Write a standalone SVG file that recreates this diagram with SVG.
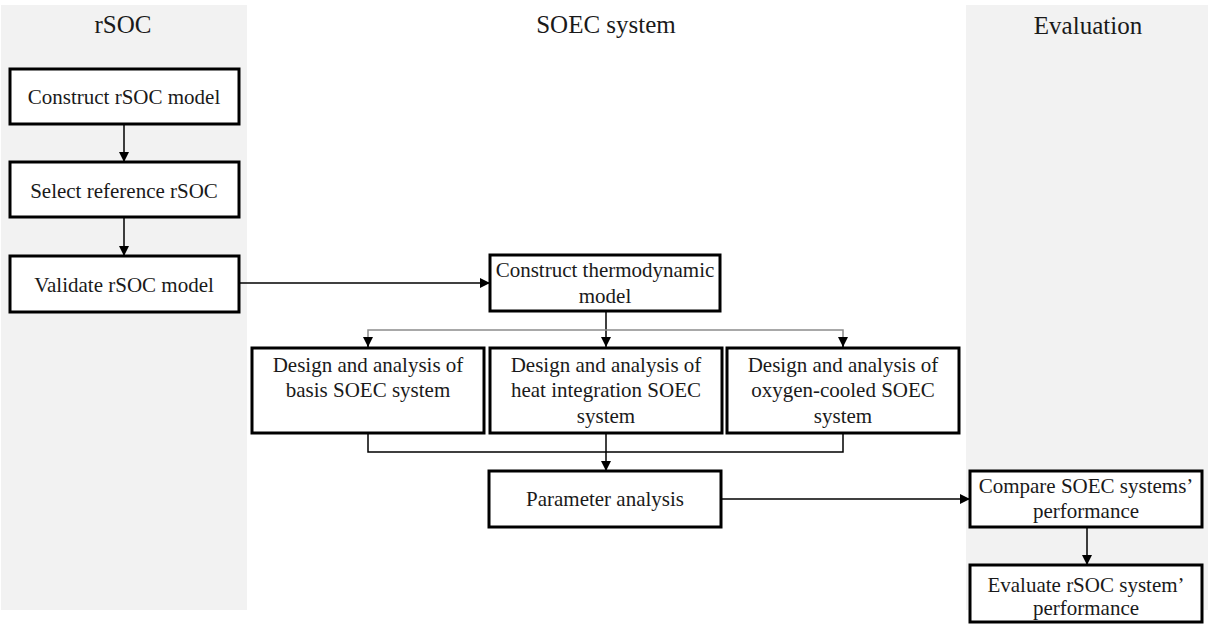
<svg xmlns="http://www.w3.org/2000/svg" width="1212" height="624" viewBox="0 0 1212 624">
<defs>
<style>
.panel{fill:#f2f2f2;stroke:none}
.box{fill:#fff;stroke:#000;stroke-width:3}
.t{font-family:"Liberation Serif","Times New Roman",serif;font-size:21px;fill:#1a1a1a;text-anchor:middle}
.title{font-family:"Liberation Serif","Times New Roman",serif;font-size:25px;fill:#1a1a1a;text-anchor:middle}
.c{fill:none;stroke:#000;stroke-width:1.5}
.g{fill:none;stroke:#8c8c8c;stroke-width:1.5}
</style>
<marker id="ah" viewBox="0 0 10 10" refX="10" refY="5" markerWidth="10" markerHeight="10" markerUnits="userSpaceOnUse" orient="auto">
<path d="M0,0 L10,5 L0,10 z" fill="#000"/>
</marker>
</defs>
<rect width="1212" height="624" fill="#fff"/>
<rect class="panel" x="1" y="5" width="246" height="605"/>
<rect class="panel" x="966" y="5" width="242" height="605"/>
<text class="title" x="123" y="33">rSOC</text>
<text class="title" x="606" y="33">SOEC system</text>
<text class="title" x="1088" y="34">Evaluation</text>
<g id="connectors">
<line class="c" x1="124" y1="124" x2="124" y2="162" marker-end="url(#ah)"/>
<line class="c" x1="124" y1="217" x2="124" y2="256" marker-end="url(#ah)"/>
<line class="c" x1="239" y1="283" x2="490" y2="283" marker-end="url(#ah)"/>
<line class="c" x1="606" y1="311" x2="606" y2="347" marker-end="url(#ah)"/>
<polyline class="g" points="368,347 368,330 843,330 843,347"/>
<line class="c" x1="368" y1="338" x2="368" y2="347" marker-end="url(#ah)"/>
<line class="c" x1="843" y1="338" x2="843" y2="347" marker-end="url(#ah)"/>
<polyline class="c" points="368,433 368,452 843,452 843,433"/>
<line class="c" x1="606" y1="433" x2="606" y2="471" marker-end="url(#ah)"/>
<line class="c" x1="721" y1="499" x2="970" y2="499" marker-end="url(#ah)"/>
<line class="c" x1="1087" y1="527" x2="1087" y2="565" marker-end="url(#ah)"/>
</g>
<g id="n1"><rect class="box" x="10" y="69" width="229" height="55"/><text class="t" x="124" y="104">Construct rSOC model</text></g>
<g id="n2"><rect class="box" x="10" y="162" width="229" height="55"/><text class="t" x="124" y="198">Select reference rSOC</text></g>
<g id="n3"><rect class="box" x="10" y="256" width="229" height="56"/><text class="t" x="124" y="292">Validate rSOC model</text></g>
<g id="n4"><rect class="box" x="490" y="255" width="230" height="56"/><text class="t" x="605" y="277">Construct thermodynamic</text><text class="t" x="605" y="303">model</text></g>
<g id="n5"><rect class="box" x="252" y="348" width="232" height="85"/><text class="t" x="368" y="372">Design and analysis of</text><text class="t" x="368" y="397">basis SOEC system</text></g>
<g id="n6"><rect class="box" x="490" y="348" width="232" height="85"/><text class="t" x="606" y="372">Design and analysis of</text><text class="t" x="606" y="397">heat integration SOEC</text><text class="t" x="606" y="423">system</text></g>
<g id="n7"><rect class="box" x="727" y="348" width="232" height="85"/><text class="t" x="843" y="372">Design and analysis of</text><text class="t" x="843" y="397">oxygen-cooled SOEC</text><text class="t" x="843" y="423">system</text></g>
<g id="n8"><rect class="box" x="489" y="471" width="232" height="56"/><text class="t" x="605" y="506">Parameter analysis</text></g>
<g id="n9"><rect class="box" x="970" y="471" width="232" height="56"/><text class="t" x="1086" y="493">Compare SOEC systems’</text><text class="t" x="1086" y="518">performance</text></g>
<g id="n10"><rect class="box" x="970" y="565" width="232" height="57"/><text class="t" x="1086" y="592">Evaluate rSOC system’</text><text class="t" x="1086" y="615">performance</text></g>
</svg>
